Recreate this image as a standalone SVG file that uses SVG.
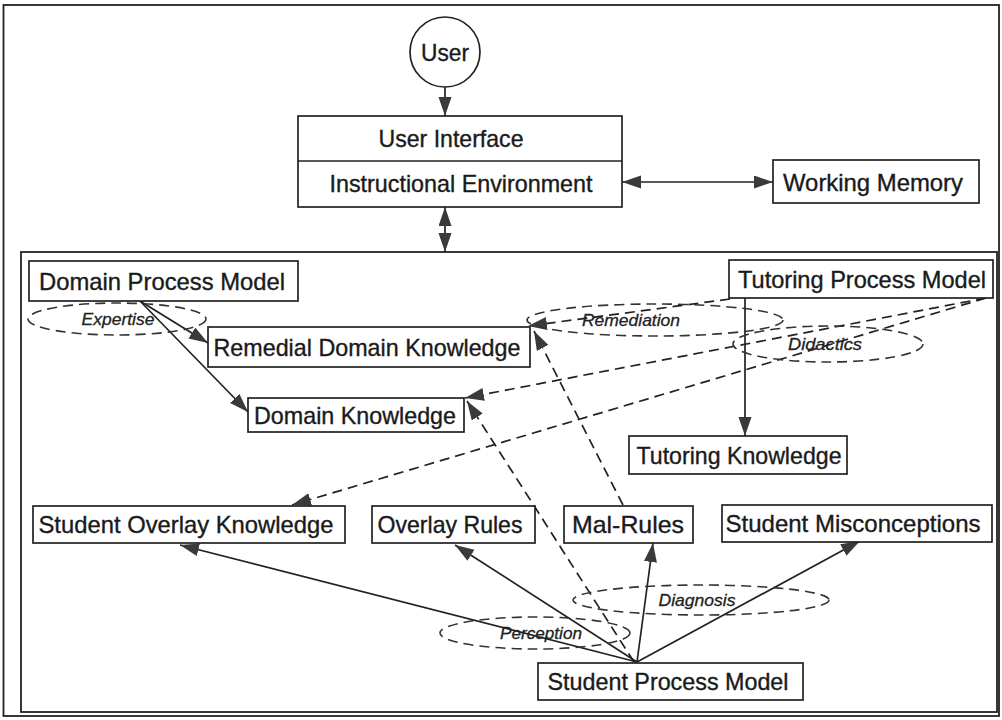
<svg xmlns="http://www.w3.org/2000/svg" width="1002" height="720" viewBox="0 0 1002 720">
<style>
  .box{fill:#fff;stroke:#222;stroke-width:1.7}
  .frame{fill:none;stroke:#222;stroke-width:1.8}
  .lbl{font-family:"Liberation Sans",Arial,sans-serif;font-size:24px;fill:#1a1a1a;stroke:#1a1a1a;stroke-width:0.35;text-anchor:middle}
  .it{font-family:"Liberation Sans",Arial,sans-serif;font-size:17px;font-style:italic;fill:#222;stroke:#222;stroke-width:0.3;text-anchor:middle}
  .solid{fill:none;stroke:#222;stroke-width:1.7}
  .dash{fill:none;stroke:#222;stroke-width:1.7;stroke-dasharray:10 6}
  .ell{fill:none;stroke:#333;stroke-width:1.6;stroke-dasharray:10 6}
</style>
<defs>
  <marker id="ah" markerUnits="userSpaceOnUse" markerWidth="20" markerHeight="14" refX="19" refY="6.5" orient="auto-start-reverse">
    <path d="M0,0 L19,6.5 L0,13 z" fill="#3a3a3a"/>
  </marker>
</defs>
<rect width="1002" height="720" fill="#fff"/>
<rect class="frame" x="3.5" y="5" width="995.5" height="711"/>
<rect class="frame" x="21" y="252" width="976" height="460"/>

<g id="connectors">
  <line class="solid" x1="445" y1="87" x2="445" y2="116" marker-end="url(#ah)"/>
  <line class="solid" x1="622" y1="182" x2="773" y2="182" marker-start="url(#ah)" marker-end="url(#ah)"/>
  <line class="solid" x1="445" y1="207" x2="445" y2="252" marker-start="url(#ah)" marker-end="url(#ah)"/>
  <line class="solid" x1="140" y1="301" x2="208" y2="343" marker-end="url(#ah)"/>
  <line class="solid" x1="140" y1="301" x2="248" y2="412" marker-end="url(#ah)"/>
  <line class="solid" x1="745" y1="298" x2="745" y2="436" marker-end="url(#ah)"/>
  <line class="solid" x1="637" y1="662" x2="180" y2="545" marker-end="url(#ah)"/>
  <line class="solid" x1="637" y1="662" x2="455" y2="545" marker-end="url(#ah)"/>
  <line class="solid" x1="637" y1="662" x2="653" y2="543" marker-end="url(#ah)"/>
  <line class="solid" x1="637" y1="662" x2="860" y2="541" marker-end="url(#ah)"/>
  <line class="dash" x1="730" y1="299" x2="528" y2="326" marker-end="url(#ah)"/>
  <line class="dash" x1="623" y1="505" x2="534" y2="331" marker-end="url(#ah)"/>
  <line class="dash" x1="986" y1="298" x2="465" y2="398" marker-end="url(#ah)"/>
  <line class="dash" x1="634" y1="662" x2="467" y2="401" marker-end="url(#ah)"/>
  <line class="dash" x1="986" y1="298" x2="292" y2="505" marker-end="url(#ah)"/>
</g>

<g id="labels">
  <ellipse class="ell" cx="117" cy="319" rx="89" ry="16"/>
  <text class="it" x="118" y="325" textLength="73" lengthAdjust="spacingAndGlyphs">Expertise</text>
  <ellipse class="ell" cx="655" cy="320" rx="128" ry="16"/>
  <text class="it" x="631" y="326" textLength="98" lengthAdjust="spacingAndGlyphs">Remediation</text>
  <ellipse class="ell" cx="828" cy="344" rx="95" ry="18"/>
  <text class="it" x="825" y="350" textLength="74" lengthAdjust="spacingAndGlyphs">Didactics</text>
  <ellipse class="ell" cx="701" cy="600" rx="128" ry="15"/>
  <text class="it" x="697" y="606" textLength="77" lengthAdjust="spacingAndGlyphs">Diagnosis</text>
  <ellipse class="ell" cx="535" cy="633" rx="95" ry="16"/>
  <text class="it" x="541" y="639" textLength="82" lengthAdjust="spacingAndGlyphs">Perception</text>
</g>

<g id="user">
  <circle cx="445" cy="52" r="35" fill="#fff" stroke="#222" stroke-width="1.7"/>
  <text class="lbl" x="445" y="61" textLength="48" lengthAdjust="spacingAndGlyphs">User</text>
</g>
<g id="interface">
  <rect class="box" x="298" y="116" width="324" height="91"/>
  <line class="solid" x1="298" y1="161" x2="622" y2="161"/>
  <text class="lbl" x="451" y="147" textLength="145" lengthAdjust="spacingAndGlyphs">User Interface</text>
  <text class="lbl" x="461" y="192" textLength="263" lengthAdjust="spacingAndGlyphs">Instructional Environment</text>
</g>
<g id="working-memory">
  <rect class="box" x="773" y="160" width="206" height="43"/>
  <text class="lbl" x="873" y="191" textLength="180" lengthAdjust="spacingAndGlyphs">Working Memory</text>
</g>
<g id="domain-process-model">
  <rect class="box" x="29" y="261" width="269" height="40"/>
  <text class="lbl" x="162" y="290" textLength="246" lengthAdjust="spacingAndGlyphs">Domain Process Model</text>
</g>
<g id="tutoring-process-model">
  <rect class="box" x="729" y="260" width="264" height="38"/>
  <text class="lbl" x="862" y="288" textLength="248" lengthAdjust="spacingAndGlyphs">Tutoring Process Model</text>
</g>
<g id="remedial-domain-knowledge">
  <rect class="box" x="208" y="327" width="322" height="40"/>
  <text class="lbl" x="367" y="356" textLength="307" lengthAdjust="spacingAndGlyphs">Remedial Domain Knowledge</text>
</g>
<g id="domain-knowledge">
  <rect class="box" x="248" y="398" width="216" height="34"/>
  <text class="lbl" x="355" y="424" textLength="202" lengthAdjust="spacingAndGlyphs">Domain Knowledge</text>
</g>
<g id="tutoring-knowledge">
  <rect class="box" x="629" y="436" width="218" height="38"/>
  <text class="lbl" x="739" y="464" textLength="205" lengthAdjust="spacingAndGlyphs">Tutoring Knowledge</text>
</g>
<g id="student-overlay-knowledge">
  <rect class="box" x="33" y="506" width="312" height="37"/>
  <text class="lbl" x="186" y="533" textLength="295" lengthAdjust="spacingAndGlyphs">Student Overlay Knowledge</text>
</g>
<g id="overlay-rules">
  <rect class="box" x="372" y="506" width="163" height="37"/>
  <text class="lbl" x="450" y="533" textLength="145" lengthAdjust="spacingAndGlyphs">Overlay Rules</text>
</g>
<g id="mal-rules">
  <rect class="box" x="564" y="506" width="129" height="37"/>
  <text class="lbl" x="628" y="533" textLength="112" lengthAdjust="spacingAndGlyphs">Mal-Rules</text>
</g>
<g id="student-misconceptions">
  <rect class="box" x="722" y="505" width="270" height="37"/>
  <text class="lbl" x="853" y="532" textLength="255" lengthAdjust="spacingAndGlyphs">Student Misconceptions</text>
</g>
<g id="student-process-model">
  <rect class="box" x="538" y="663" width="265" height="37"/>
  <text class="lbl" x="668" y="690" textLength="241" lengthAdjust="spacingAndGlyphs">Student Process Model</text>
</g>
</svg>
